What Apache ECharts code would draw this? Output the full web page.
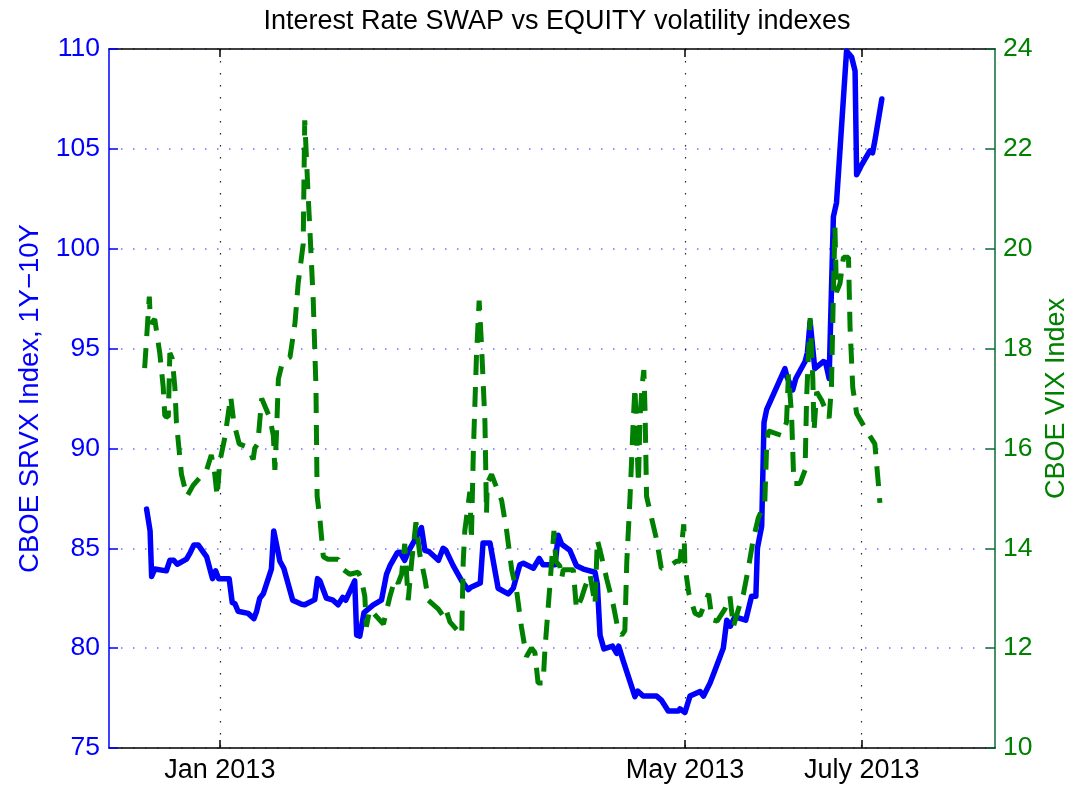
<!DOCTYPE html>
<html>
<head>
<meta charset="utf-8">
<script src="https://cdn.jsdelivr.net/npm/echarts@6/dist/echarts.min.js"></script>
<style>
html,body{margin:0;padding:0;background:#fff;}
#chart{width:1068px;height:789px;}
</style>
</head>
<body>
<div id="chart"></div>
<script>
// x values: days relative to the "Jan 2013" tick
const tickDays = [0, 120, 165.6];
const tickLabels = ['Jan 2013', 'May 2013', 'July 2013'];
const leftTicks = [75, 80, 85, 90, 95, 100, 105, 110];
const rightTicks = [10, 12, 14, 16, 18, 20, 22, 24];

const srvxDays = [-18.9,-18.0,-17.6,-16.8,-13.8,-12.9,-11.9,-11.0,-8.6,-7.6,-6.7,-5.6,-3.4,-1.9,-1.1,-0.3,2.4,3.2,3.9,4.7,7.3,8.8,9.5,10.3,11.2,13.3,13.9,14.2,15.5,16.5,18.8,21.1,21.9,24.5,25.2,25.8,27.5,29.2,30.5,31.0,31.7,32.5,34.8,35.3,36.1,37.2,39.6,41.7,43.0,43.9,45.8,46.5,47.7,48.8,50.1,50.6,52.0,52.9,54.0,56.4,57.6,58.3,60.2,62.4,64.1,64.8,67.2,67.9,69.7,71.8,74.4,75.7,77.4,78.3,80.9,82.4,83.4,86.5,87.3,88.2,90.3,92.0,93.8,96.8,97.4,98.1,99.1,101.3,102.4,102.9,104.1,107.1,107.8,109.2,112.7,113.9,115.7,118.3,118.7,120.0,121.3,123.9,124.8,126.5,127.7,129.9,130.8,131.7,132.9,135.7,137.2,138.3,138.7,139.8,140.4,141.1,145.8,146.3,147.8,148.6,151.0,151.6,152.3,153.5,155.7,156.3,157.2,158.3,159.1,161.7,163.0,163.9,164.3,165.6,167.7,168.4,169.0,170.8];
const srvxValues = [86.96,85.87,83.59,83.96,83.87,84.4,84.4,84.2,84.46,84.8,85.17,85.17,84.57,83.48,83.87,83.48,83.48,82.28,82.22,81.85,81.74,81.48,81.85,82.5,82.72,83.96,85.87,85.9,84.35,84.0,82.4,82.2,82.17,82.43,83.48,83.37,82.5,82.4,82.17,82.07,82.54,82.4,83.37,80.65,80.6,81.78,82.17,82.4,83.7,84.13,84.78,84.8,84.4,84.9,85.35,85.4,86.04,84.9,84.83,84.4,85.0,84.9,84.13,83.37,82.93,83.05,83.26,85.26,85.26,83.0,82.72,83.0,84.17,84.25,84.0,84.5,84.17,84.17,85.65,85.2,84.9,84.13,83.96,83.8,83.2,80.65,79.96,80.1,79.74,80.1,79.35,77.57,77.85,77.6,77.6,77.4,76.85,76.85,76.96,76.78,77.6,77.83,77.6,78.26,78.87,80.0,81.4,81.1,81.57,81.4,82.6,82.6,85.0,86.1,91.3,91.96,94.0,93.6,92.93,93.5,94.35,94.8,96.35,94.0,94.35,94.3,93.5,101.6,102.3,109.9,109.6,108.9,103.7,104.2,104.9,104.8,105.4,107.5];

const vixDays = [-19.4,-18.2,-18.0,-17.7,-16.8,-15.5,-14.6,-14.2,-13.3,-12.9,-12.3,-11.6,-11.2,-9.9,-8.5,-6.9,-3.4,-2.2,-1.3,-0.7,0,1.3,2.8,3.6,5.0,7.3,8.6,9.0,9.8,10.8,12.0,12.9,13.8,14.2,14.6,15.1,16.2,18.1,19.4,20.2,21.5,21.9,22.8,23.2,24.1,24.8,25.1,25.8,26.7,27.9,30.5,31.4,33.5,35.7,36.5,37.4,37.8,38.7,42.2,43.9,45.2,46.0,46.9,47.7,48.6,49.5,50.6,51.6,52.9,53.8,56.4,57.6,58.3,59.4,62.4,62.8,63.2,64.5,64.9,65.4,66.2,66.9,67.5,68.4,68.8,69.0,70.1,72.7,74.0,75.3,76.6,77.8,79.1,80.4,81.3,82.1,83.4,83.9,85.2,86.2,86.7,87.7,88.2,88.6,91.2,92.0,93.3,94.2,95.5,96.8,97.4,98.5,99.8,101.5,102.8,103.7,104.5,105.0,105.8,106.7,107.1,107.5,108.0,108.4,109.0,109.4,109.7,110.1,111.4,112.7,113.9,115.3,117.8,118.7,119.7,120.0,121.0,122.6,123.9,124.8,126.1,127.0,128.3,130.3,131.6,132.5,133.8,135.1,136.3,137.6,138.9,140.6,141.1,141.5,144.9,146.2,146.7,147.5,148.1,149.7,151.0,151.4,152.3,153.0,153.3,154.0,155.3,157.2,157.8,158.3,158.7,159.1,160.0,160.9,162.2,162.6,163.3,164.3,166.9,169.0,169.9,170.3];
const vixValues = [17.61,19.04,18.7,18.5,18.59,17.91,17.22,16.65,16.63,17.91,17.8,17.22,16.52,15.48,15.04,15.26,15.57,15.87,15.48,15.04,15.74,16.22,17.04,16.52,16.09,16.02,15.78,16.0,16.1,17.0,16.78,16.61,16.26,15.57,16.26,17.39,17.74,17.83,18.52,19.3,20.09,22.57,21.04,20.43,18.96,17.22,15.04,14.6,13.83,13.78,13.78,13.6,13.48,13.52,13.39,13.04,12.43,12.78,12.48,13.04,13.39,13.3,13.48,14.09,12.96,13.74,14.52,13.87,13.39,12.96,12.78,12.65,12.78,12.52,12.26,13.74,14.35,15.13,14.17,15.91,17.83,18.96,18.09,16.52,14.7,15.3,15.48,14.96,14.35,13.57,13.13,12.43,11.83,12.0,11.91,11.3,11.3,12.0,13.3,14.35,13.74,13.65,13.4,13.57,13.57,12.78,13.0,13.22,13.48,12.87,14.17,13.83,13.39,12.87,12.35,12.26,12.35,13.74,14.96,16.61,17.22,16.35,15.3,16.61,17.3,17.57,16.78,15.04,14.6,14.17,13.6,13.6,13.74,13.74,14.48,13.65,13.1,12.7,12.65,12.83,13.09,12.57,12.54,12.78,13.04,12.43,12.78,13.09,13.57,14.17,14.6,14.91,16.09,16.35,16.26,16.52,17.48,16.7,15.3,15.3,15.57,17.04,18.61,17.39,16.35,17.13,16.96,16.61,17.22,19.13,20.43,19.13,19.3,19.83,19.83,18.43,17.22,16.7,16.35,16.09,15.3,14.91];

const FONT = "'Liberation Sans', Arial, Helvetica, sans-serif";
const BLUE = '#0000ff';
const GREEN = '#008000';
const GREEN_AXIS = '#0b6b35';
const X_MIN = -28.6, X_MAX = 200;

const srvxData = srvxDays.map((d, i) => [d, srvxValues[i]]);
const vixData = vixDays.map((d, i) => [d, vixValues[i]]);

const chart = echarts.init(document.getElementById('chart'), null, {renderer: 'canvas'});
chart.setOption({
  animation: false,
  backgroundColor: '#ffffff',
  title: {
    text: 'Interest Rate SWAP vs EQUITY volatility indexes',
    left: 552, top: 3, textAlign: 'center',
    textStyle: {fontFamily: FONT, fontSize: 27, fontWeight: 'normal', color: '#000'}
  },
  grid: {left: 109, top: 49, right: 73, bottom: 41, containLabel: false, outerBoundsMode: 'none'},
  xAxis: [
    {
      type: 'value', position: 'bottom', min: X_MIN, max: X_MAX,
      axisLine: {show: true, onZero: false, lineStyle: {color: '#000', width: 1.5}},
      axisTick: {show: true, inside: true, length: 8, customValues: tickDays, lineStyle: {color: '#000', width: 1.5}},
      axisLabel: {
        customValues: tickDays, margin: 9,
        formatter: v => { const i = tickDays.findIndex(t => Math.abs(t - v) < 1e-6); return i >= 0 ? tickLabels[i] : ''; },
        fontFamily: FONT, fontSize: 27, color: '#000'
      },
      splitLine: {show: true, lineStyle: {color: '#222', width: 1.2, type: [1.5, 10.5]}}
    },
    {
      type: 'value', position: 'top', min: X_MIN, max: X_MAX,
      axisLine: {show: true, onZero: false, lineStyle: {color: '#000', width: 1.5}},
      axisTick: {show: true, inside: true, length: 8, customValues: tickDays, lineStyle: {color: '#000', width: 1.5}},
      axisLabel: {show: false},
      splitLine: {show: false}
    }
  ],
  yAxis: [
    {
      type: 'value', position: 'left', min: 75, max: 110, interval: 5,
      axisLine: {show: true, onZero: false, lineStyle: {color: BLUE, width: 1.5}},
      axisTick: {show: true, inside: true, length: 9, lineStyle: {color: BLUE, width: 1.5}},
      axisLabel: {margin: 9, fontFamily: FONT, fontSize: 26.5, color: BLUE,
        formatter: v => leftTicks.includes(v) ? String(v) : ''},
      splitLine: {show: true, lineStyle: {color: '#6f6fff', width: 1.5, type: [1.5, 10.5]}},
      name: 'CBOE SRVX Index, 1Y\u221210Y', nameLocation: 'middle', nameGap: 65,
      nameTextStyle: {fontFamily: FONT, fontSize: 27.5, color: BLUE}
    },
    {
      type: 'value', position: 'right', min: 10, max: 24, interval: 2,
      axisLine: {show: true, onZero: false, lineStyle: {color: GREEN_AXIS, width: 1.5}},
      axisTick: {show: true, inside: true, length: 9, lineStyle: {color: GREEN_AXIS, width: 1.5}},
      axisLabel: {margin: 8, fontFamily: FONT, fontSize: 26.5, color: GREEN,
        formatter: v => rightTicks.includes(v) ? String(v) : ''},
      splitLine: {show: false},
      name: 'CBOE VIX Index', nameLocation: 'middle', nameGap: 48, nameRotate: 90,
      nameTextStyle: {fontFamily: FONT, fontSize: 27, color: GREEN}
    }
  ],
  series: [
    {
      name: 'SRVX', type: 'line', xAxisIndex: 0, yAxisIndex: 0, data: srvxData,
      showSymbol: false, smooth: false, z: 3,
      lineStyle: {color: BLUE, width: 5.5, join: 'round', cap: 'round'}
    },
    {
      name: 'VIX', type: 'line', xAxisIndex: 0, yAxisIndex: 1, data: vixData,
      showSymbol: false, smooth: false, z: 4,
      lineStyle: {color: GREEN, width: 5, type: [20, 12], cap: 'butt'}
    }
  ]
});
</script>
</body>
</html>
